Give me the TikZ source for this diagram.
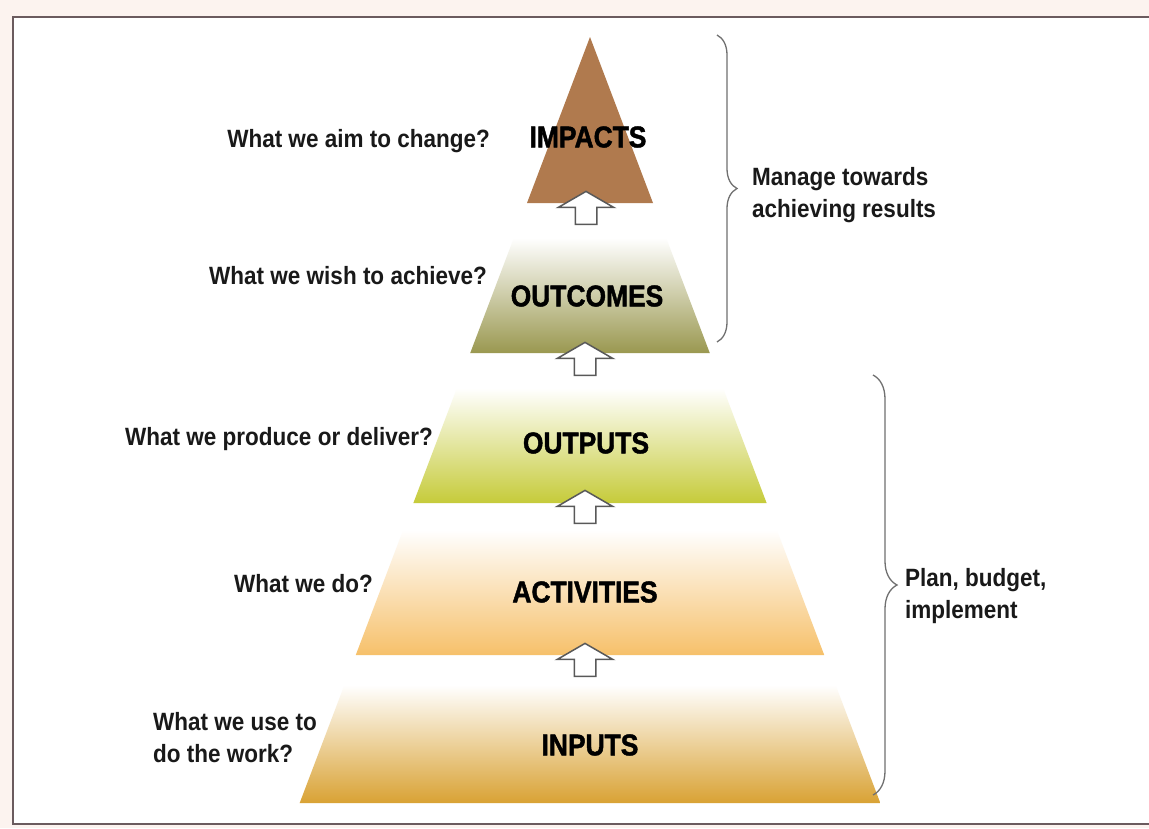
\documentclass[tikz,border=0pt]{standalone}
\usepackage{fontspec}
\setmainfont{Liberation Sans}[FakeStretch=0.9]
\newfontfamily\layerfont{Liberation Sans Bold}[FakeStretch=0.88,FakeBold=1.5]
\usepackage{tikz}
\usetikzlibrary{shapes.arrows,decorations.pathreplacing}

\definecolor{framepink}{HTML}{FCF3EF}
\definecolor{framegray}{HTML}{6B5B5E}
\definecolor{impactcol}{HTML}{B07A4E}
\definecolor{outcomecol}{HTML}{9A9850}
\definecolor{outputcol}{HTML}{C6CB3A}
\definecolor{activitycol}{HTML}{F6C06A}
\definecolor{inputcol}{HTML}{D9A234}
\definecolor{bracegray}{HTML}{707070}

\tikzset{
  layerlabel/.style={font=\fontsize{30}{36}\layerfont,text=black,inner sep=0pt},
  question/.style={font=\fontsize{25}{32}\selectfont\bfseries,text=black!90,inner sep=0pt},
  upblock/.style={shape=single arrow,rotate=90,draw=black!65,fill=white,line width=1.5pt,
    inner sep=10pt,minimum height=33pt,single arrow head extend=17pt,single arrow tip angle=120},
  bracket/.style={decorate,decoration={brace,amplitude=#1},draw=bracegray,line width=1.3pt},
  bracket/.default=20pt
}

\begin{document}
\begin{tikzpicture}[x=1pt,y=-1pt]
  \useasboundingbox (0,0) rectangle (1149,828);
  % frame
  \fill[framepink] (0,0) rectangle (1149,828);
  \fill[white] (13,17) rectangle (1149,824);
  \draw[framegray,line width=2pt] (1149,17) -- (13,17) -- (13,824) -- (1149,824);

  % pyramid: apex (590,37), 0.379 out per unit down
  \fill[impactcol] (590,37) -- (653,203) -- (527,203) -- cycle;
  \foreach \ytop/\ybot/\col in {238/353/outcomecol, 388/503/outputcol,
                                530/655/activitycol, 685/803/inputcol}{%
    \shade[top color=white,middle color=\col!35,bottom color=\col]
      ({590-0.379*(\ytop-37)},\ytop) -- ({590+0.379*(\ytop-37)},\ytop) --
      ({590+0.379*(\ybot-37)},\ybot) -- ({590-0.379*(\ybot-37)},\ybot) -- cycle;
  }

  \node[layerlabel] (impacts) at (588,137) {IMPACTS};
  \node[layerlabel] (outcomes) at (587,296) {OUTCOMES};
  \node[layerlabel] (outputs) at (586,443) {OUTPUTS};
  \node[layerlabel] (activities) at (585,592) {ACTIVITIES};
  \node[layerlabel] (inputs) at (590,745) {INPUTS};

  % arrows between the layers
  \node[upblock] (up1) at (586,211) {};
  \node[upblock] (up2) at (585,362) {};
  \node[upblock] (up3) at (585,510) {};
  \node[upblock] (up4) at (585,663) {};

  % questions on the left
  \node[question,anchor=base east] (aim) at (490,147) {What we aim to change?};
  \node[question,anchor=base east] (wish) at (487,284) {What we wish to achieve?};
  \node[question,anchor=base east] (produce) at (433,445) {What we produce or deliver?};
  \node[question,anchor=base east] (dowhat) at (373,592) {What we do?};
  \node[question,anchor=west,align=left] (use) at (153,738) {What we use to\\do the work?};

  % braces on the right
  \coordinate (upper top) at (717,35);
  \coordinate (upper bot) at (717,342);
  \coordinate (lower top) at (873,375);
  \coordinate (lower bot) at (873,795);
  \draw[bracket=20pt] (upper top) -- (upper bot);
  \draw[bracket=24pt] (lower top) -- (lower bot);
  \node[question,anchor=west,align=left] (manage) at (752,195) {Manage towards\\achieving results};
  \node[question,anchor=west,align=left] (plan) at (905,596) {Plan, budget,\\implement};
\end{tikzpicture}
\end{document}
